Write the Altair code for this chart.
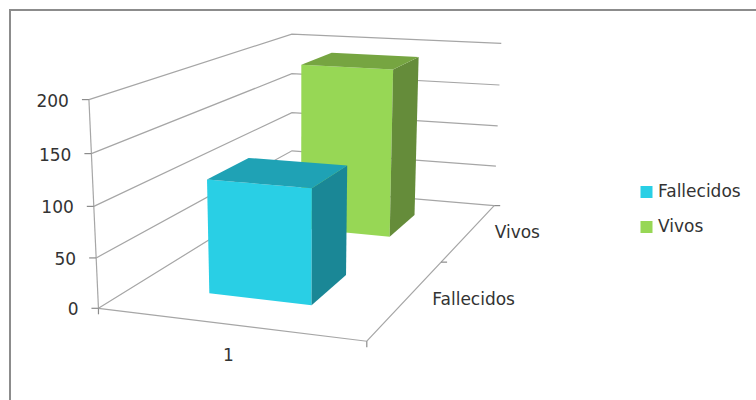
import numpy as np
import pandas as pd
import altair as alt

# Chart values
series = ["Fallecidos", "Vivos"]
values = [115, 190]
value_ticks = [0, 50, 100, 150, 200]
category = "1"

# Face colours per series
front_colors = ["#29CFE5", "#97D755"]
top_colors = ["#1FA2B5", "#76A541"]
side_colors = ["#1A8796", "#658C3A"]
line_gray = "#A6A6A6"
frame_gray = "#8C8C8C"
text_color = "#333333"
font = "DejaVu Sans"

# Box extent in the unit floor: across (u) and depth (w) slots
u_span = (0.30, 0.70)
w_spans = [(0.15, 0.35), (0.65, 0.85)]

# Perspective camera: (u, w, value / 200, 1) -> homogeneous pixel position
CAMERA = np.array([
    [-0.4410009836556857, -0.5485983046542169, 0.02466701919691127, -0.17881725729706813],
    [-0.016717263089954994, 0.09051181043304693, 0.3872846759440517, -0.5599186620421044],
    [0.00012633463148068117, -0.0006745093320613576, 8.271247163821552e-05, -0.0018161498019516865],
])


def project(u, w, v):
    h = CAMERA @ np.array([u, w, v / 200, 1.0])
    return float(h[0] / h[2]), float(h[1] / h[2])


def rows(group, corners, **extra):
    out = []
    for i, (u, w, v) in enumerate(corners):
        px, py = project(u, w, v)
        out.append({"group": group, "i": i, "px": px, "py": py, **extra})
    return out


# Walls and floor edges
grid = []
for v in value_ticks:
    grid += rows(f"grid{v}", [(0, 0, v), (0, 1, v), (1, 1, v)])
grid += rows("left", [(0, 0, 0), (0, 0, 200)])
grid += rows("front", [(0, 0, 0), (1, 0, 0), (1, 1, 0)])

# Tick marks on the three axes
ticks = []
for v in value_ticks:
    x, y = project(0, 0, v)
    ticks.append({"group": f"t{v}", "i": 0, "px": x - 7, "py": y})
    ticks.append({"group": f"t{v}", "i": 1, "px": x, "py": y})
for u in (0, 1):
    x, y = project(u, 0, 0)
    ticks.append({"group": f"c{u}", "i": 0, "px": x, "py": y})
    ticks.append({"group": f"c{u}", "i": 1, "px": x, "py": y + 6})
for w in (0.5, 1):
    x, y = project(1, w, 0)
    ticks.append({"group": f"d{w}", "i": 0, "px": x, "py": y})
    ticks.append({"group": f"d{w}", "i": 1, "px": x + 6, "py": y})

# Box faces: fronts carry the series colour, sides and tops a darker shade
fronts, shaded = {}, []
for k, (name, val) in enumerate(zip(series, values)):
    u0, u1 = u_span
    w0, w1 = w_spans[k]
    fronts[name] = rows(name, [(u0, w0, 0), (u1, w0, 0), (u1, w0, val), (u0, w0, val), (u0, w0, 0)], serie=name)
    shaded += rows(f"{name}-side", [(u1, w0, 0), (u1, w1, 0), (u1, w1, val), (u1, w0, val), (u1, w0, 0)], shade=side_colors[k])
    shaded += rows(f"{name}-top", [(u0, w0, val), (u1, w0, val), (u1, w1, val), (u0, w1, val), (u0, w0, val)], shade=top_colors[k])

# Axis labels
labels = []
for v in value_ticks:
    x, y = project(0, 0, v)
    labels.append({"px": x - 20, "py": y + 2, "text": str(v)})
labels_df = pd.DataFrame(labels)
x, y = project(0.48, 0, 0)
cat_df = pd.DataFrame([{"px": x + 6, "py": y + 32, "text": category}])
depth = []
for (w, name) in zip((0.25, 0.75), series):
    x, y = project(1, w, 0)
    depth.append({"px": x + 25, "py": y + 1.5, "text": name})
depth_df = pd.DataFrame(depth)

xs = alt.Scale(domain=[0, 756], range=[0, 756])
ys = alt.Scale(domain=[0, 400], range=[0, 400])
X = alt.X("px:Q", scale=xs, axis=None)
Y = alt.Y("py:Q", scale=ys, axis=None)

frame = alt.Chart(pd.DataFrame({"group": ["f"] * 3, "i": [0, 1, 2], "px": [10, 10, 756], "py": [400, 10, 10]})).mark_line(
    color=frame_gray, strokeWidth=2
).encode(x=X, y=Y, order="i:Q", detail="group:N")

grid_layer = alt.Chart(pd.DataFrame(grid)).mark_line(color=line_gray, strokeWidth=1.2).encode(
    x=X, y=Y, order="i:Q", detail="group:N"
)
tick_layer = alt.Chart(pd.DataFrame(ticks)).mark_line(color=frame_gray, strokeWidth=1.2).encode(
    x=X, y=Y, order="i:Q", detail="group:N"
)

# The rear box is painted first so the nearer one covers it
color = alt.Color(
    "serie:N",
    scale=alt.Scale(domain=series, range=front_colors),
    legend=alt.Legend(
        title=None, orient="none", legendX=638, legendY=183.5,
        symbolType="square", symbolSize=144, labelFont=font, labelFontSize=17,
        labelColor=text_color, labelOffset=3, rowPadding=17, symbolStrokeWidth=0,
    ),
)
front_layers = [
    alt.Chart(pd.DataFrame(fronts[name])).mark_line(filled=True, strokeWidth=0).encode(
        x=X, y=Y, order="i:Q", detail="group:N", color=color
    )
    for name in reversed(series)
]
shade_layer = alt.Chart(pd.DataFrame(shaded)).mark_line(filled=True, strokeWidth=0).encode(
    x=X, y=Y, order="i:Q", detail="group:N",
    fill=alt.Fill("shade:N", scale=None),
)

text_kw = dict(font=font, fontSize=17, color=text_color)
value_text = alt.Chart(labels_df).mark_text(align="right", baseline="middle", **text_kw).encode(x=X, y=Y, text="text:N")
cat_text = alt.Chart(cat_df).mark_text(align="center", baseline="middle", **text_kw).encode(x=X, y=Y, text="text:N")
depth_text = alt.Chart(depth_df).mark_text(align="left", baseline="middle", **text_kw).encode(x=X, y=Y, text="text:N")

chart = (
    alt.layer(frame, grid_layer, tick_layer, *front_layers, shade_layer, value_text, cat_text, depth_text)
    .properties(width=756, height=400, padding=0, autosize=alt.AutoSizeParams(type="none"), background="white")
    .configure_view(stroke=None)
)
chart.save("out.html", embed_options={"renderer": "svg", "actions": False})
